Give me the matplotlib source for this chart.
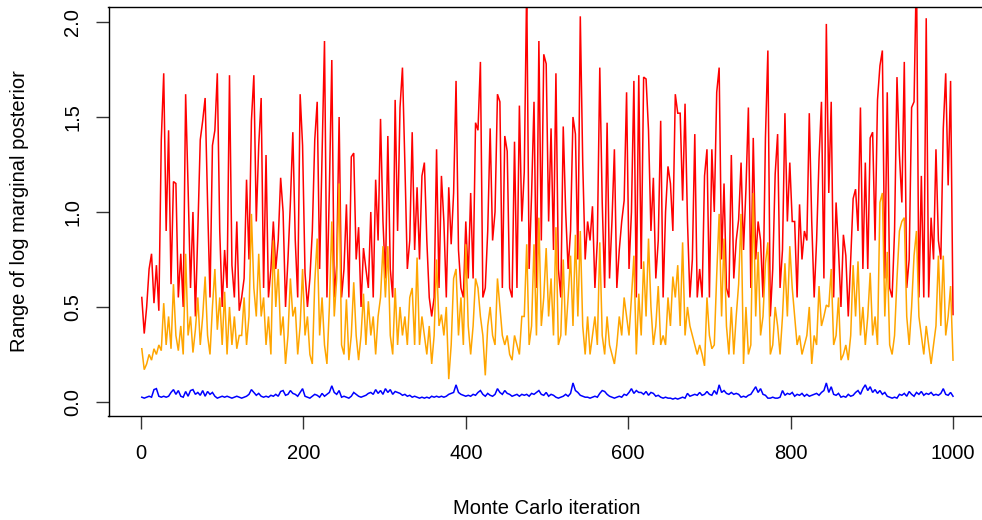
import numpy as np
import matplotlib
matplotlib.use("Agg")
import matplotlib.pyplot as plt

plt.rcParams['font.family'] = ['Liberation Sans', 'DejaVu Sans']

# Values, one sample every 3 Monte Carlo iterations
iteration_step = 3

red_series = [
    # iterations 1-121
    0.55, 0.36, 0.50, 0.70, 0.78, 0.52, 0.72, 0.48, 1.38, 1.73, 0.90, 1.43, 0.62, 1.16, 1.15, 0.55, 0.78, 0.50, 1.62, 1.13,
    0.60, 1.00, 0.45, 0.90, 1.38, 1.48, 1.60, 1.05, 0.55, 1.35, 1.43, 1.73, 0.90, 0.50, 0.80, 0.60, 1.72, 0.72, 0.55, 0.95, 0.48,
    # iterations 124-244
    0.55, 0.65, 1.17, 0.75, 1.48, 1.72, 0.95, 1.35, 1.60, 0.60, 1.30, 0.55, 0.70, 0.95, 0.70, 0.85, 1.18, 1.00, 0.50, 0.75,
    1.05, 1.42, 0.85, 0.55, 1.62, 1.35, 0.68, 0.50, 0.65, 0.90, 1.38, 1.58, 0.70, 1.30, 1.90, 0.55, 1.12, 1.80, 0.55, 0.72, 1.50,
    # iterations 247-367
    0.55, 0.70, 1.04, 0.55, 1.29, 1.31, 0.75, 0.92, 0.50, 0.81, 0.70, 0.60, 1.00, 0.55, 1.17, 0.85, 1.49, 0.95, 0.65, 1.40,
    0.70, 0.55, 1.59, 0.90, 1.55, 1.76, 1.25, 0.70, 0.85, 1.42, 0.80, 1.13, 0.75, 1.19, 1.26, 0.85, 0.55, 0.45, 0.55, 1.33, 0.60,
    # iterations 370-490
    1.19, 0.95, 0.55, 1.13, 0.83, 1.10, 1.69, 0.80, 0.60, 0.55, 0.95, 0.65, 1.10, 0.65, 1.47, 1.43, 1.79, 0.55, 0.60, 0.90,
    1.44, 0.85, 1.00, 1.62, 1.58, 0.60, 1.40, 1.32, 0.60, 0.55, 1.37, 0.60, 1.56, 0.95, 1.21, 2.20, 0.70, 1.09, 1.58, 0.60, 1.90,
    # iterations 493-613
    0.85, 1.83, 1.78, 0.95, 1.44, 0.80, 1.73, 0.70, 0.55, 1.45, 1.00, 0.70, 0.90, 1.50, 1.41, 0.75, 2.03, 1.26, 0.75, 0.95,
    0.85, 1.03, 0.60, 0.85, 1.76, 1.05, 0.60, 1.47, 0.65, 0.95, 1.33, 0.60, 0.80, 0.95, 1.06, 1.63, 0.70, 1.00, 1.69, 0.55, 1.72,
    # iterations 616-736
    0.70, 1.71, 1.70, 1.43, 0.90, 1.18, 0.65, 0.85, 1.48, 0.55, 1.00, 1.24, 1.15, 0.90, 1.62, 1.52, 1.52, 1.06, 1.57, 0.95,
    0.55, 0.75, 1.41, 0.55, 0.70, 0.55, 1.19, 1.33, 0.55, 1.33, 1.00, 1.63, 1.76, 0.75, 1.15, 0.60, 0.55, 1.30, 0.65, 0.85, 0.96,
    # iterations 739-859
    1.26, 0.80, 1.12, 1.55, 0.60, 1.39, 0.75, 0.95, 0.85, 0.55, 1.39, 1.85, 0.45, 0.70, 1.20, 1.41, 0.60, 0.80, 1.52, 0.95,
    1.26, 0.95, 0.95, 0.55, 1.04, 0.75, 0.90, 0.85, 1.52, 0.95, 0.55, 0.85, 1.28, 1.58, 0.65, 1.99, 1.10, 1.58, 0.55, 1.05, 0.80,
    # iterations 862-1000
    0.50, 0.88, 0.77, 0.45, 0.75, 1.07, 1.12, 0.90, 1.55, 0.70, 1.26, 0.70, 1.39, 1.42, 0.85, 1.59, 1.77, 1.85, 0.65, 1.63,
    0.60, 0.55, 0.90, 1.71, 1.30, 1.05, 1.79, 0.60, 0.75, 1.55, 1.58, 2.30, 0.55, 1.19, 0.55, 2.02, 0.55, 0.97, 0.75, 1.33,
    0.85, 0.75, 1.44, 1.73, 1.14, 1.69, 0.46,
]

orange_series = [
    0.28, 0.17, 0.20, 0.25, 0.22, 0.28, 0.25, 0.30, 0.27, 0.52, 0.30, 0.45, 0.28, 0.62, 0.35, 0.27, 0.40, 0.25, 0.78, 0.35,
    0.45, 0.26, 0.38, 0.55, 0.30, 0.45, 0.66, 0.35, 0.25, 0.50, 0.70, 0.38, 0.55, 0.30, 0.58, 0.25, 0.50, 0.30, 0.45, 0.28, 0.35,
    0.35, 0.55, 0.30, 0.45, 0.99, 0.60, 0.45, 0.78, 0.45, 0.55, 0.30, 0.45, 0.25, 0.85, 0.50, 0.70, 0.35, 0.45, 0.20, 0.35,
    0.65, 0.45, 0.50, 0.25, 0.40, 0.70, 0.35, 0.45, 0.25, 0.20, 0.63, 0.86, 0.35, 0.55, 0.30, 0.20, 0.50, 0.95, 0.45, 0.65, 1.15,
    0.30, 0.25, 0.54, 0.22, 0.35, 0.63, 0.35, 0.22, 0.35, 0.57, 0.30, 0.53, 0.35, 0.45, 0.25, 0.45, 0.55, 0.82, 0.55, 0.82,
    0.35, 0.25, 0.60, 0.30, 0.50, 0.35, 0.45, 0.30, 0.55, 0.60, 0.30, 0.76, 0.30, 0.45, 0.35, 0.25, 0.40, 0.20, 0.35, 0.75, 0.40,
    0.46, 0.35, 0.50, 0.12, 0.30, 0.65, 0.70, 0.35, 0.55, 0.30, 0.83, 0.40, 0.25, 0.40, 0.65, 0.60, 0.45, 0.35, 0.14, 0.40,
    0.50, 0.35, 0.30, 0.65, 0.50, 0.35, 0.30, 0.35, 0.25, 0.22, 0.35, 0.30, 0.25, 0.45, 0.45, 0.83, 0.30, 0.40, 0.83, 0.35, 0.97,
    0.40, 0.55, 0.81, 0.45, 0.65, 0.35, 0.92, 0.30, 0.35, 0.75, 0.35, 0.55, 0.77, 0.40, 0.88, 0.45, 0.90, 0.40, 0.25, 0.45,
    0.25, 0.35, 0.45, 0.30, 0.84, 0.35, 0.25, 0.45, 0.30, 0.25, 0.20, 0.30, 0.45, 0.35, 0.55, 0.45, 0.35, 0.55, 0.77, 0.25, 0.57,
    0.35, 0.74, 0.45, 0.86, 0.50, 0.30, 0.40, 0.61, 0.30, 0.35, 0.30, 0.55, 0.40, 0.66, 0.55, 0.72, 0.40, 0.84, 0.35, 0.50,
    0.40, 0.35, 0.30, 0.25, 0.30, 0.25, 0.19, 0.55, 0.35, 0.28, 0.30, 0.67, 0.99, 0.45, 0.86, 0.40, 0.25, 0.50, 0.25, 0.45, 0.62,
    0.99, 0.20, 0.50, 0.25, 0.30, 1.10, 0.45, 0.79, 0.35, 0.45, 0.73, 0.84, 0.25, 0.30, 0.50, 0.40, 0.25, 0.45, 0.73, 0.45,
    0.82, 0.60, 0.45, 0.30, 0.35, 0.25, 0.30, 0.35, 0.50, 0.20, 0.35, 0.30, 0.61, 0.40, 0.45, 0.51, 0.50, 0.70, 0.30, 0.35, 0.55,
    0.22, 0.25, 0.30, 0.22, 0.35, 0.72, 0.45, 0.74, 0.35, 0.50, 0.30, 0.45, 0.68, 0.35, 0.45, 0.30, 1.05, 1.10, 0.45, 0.79,
    0.30, 0.25, 0.35, 0.65, 0.90, 0.95, 0.97, 0.45, 0.30, 0.50, 0.77, 0.90, 0.45, 0.35, 0.25, 0.40, 0.30, 0.20, 0.30, 0.40,
    0.77, 0.40, 0.77, 0.35, 0.45, 0.61, 0.22,
]

blue_series = [
    0.025, 0.02, 0.025, 0.03, 0.025, 0.065, 0.07, 0.03, 0.025, 0.03, 0.025, 0.03, 0.05, 0.065, 0.04, 0.06, 0.03, 0.025, 0.055, 0.03,
    0.06, 0.065, 0.04, 0.05, 0.035, 0.06, 0.03, 0.055, 0.04, 0.05, 0.03, 0.02, 0.025, 0.03, 0.025, 0.03, 0.025, 0.02, 0.025, 0.03, 0.025,
    0.02, 0.025, 0.03, 0.04, 0.065, 0.05, 0.035, 0.045, 0.03, 0.025, 0.03, 0.025, 0.035, 0.03, 0.04, 0.03, 0.055, 0.06, 0.035, 0.04,
    0.06, 0.045, 0.04, 0.03, 0.05, 0.07, 0.03, 0.025, 0.02, 0.03, 0.04, 0.035, 0.025, 0.045, 0.03, 0.04, 0.05, 0.085, 0.05, 0.04, 0.06,
    0.025, 0.03, 0.025, 0.02, 0.03, 0.05, 0.04, 0.03, 0.025, 0.03, 0.035, 0.045, 0.05, 0.04, 0.065, 0.045, 0.06, 0.04, 0.07, 0.05,
    0.065, 0.04, 0.055, 0.05, 0.045, 0.035, 0.04, 0.03, 0.035, 0.025, 0.03, 0.025, 0.02, 0.025, 0.02, 0.025, 0.02, 0.03, 0.025, 0.03, 0.025,
    0.03, 0.025, 0.03, 0.04, 0.045, 0.05, 0.09, 0.05, 0.04, 0.035, 0.03, 0.035, 0.03, 0.04, 0.035, 0.05, 0.06, 0.04, 0.03, 0.045,
    0.035, 0.03, 0.04, 0.07, 0.05, 0.04, 0.06, 0.045, 0.04, 0.03, 0.035, 0.04, 0.03, 0.04, 0.035, 0.04, 0.03, 0.045, 0.04, 0.05, 0.06,
    0.04, 0.035, 0.05, 0.03, 0.04, 0.035, 0.025, 0.02, 0.025, 0.03, 0.04, 0.03, 0.045, 0.10, 0.06, 0.05, 0.035, 0.03, 0.025, 0.025,
    0.02, 0.025, 0.03, 0.025, 0.045, 0.06, 0.055, 0.04, 0.03, 0.025, 0.02, 0.025, 0.03, 0.025, 0.04, 0.035, 0.05, 0.07, 0.045, 0.06, 0.05,
    0.05, 0.04, 0.055, 0.035, 0.05, 0.045, 0.03, 0.035, 0.025, 0.02, 0.025, 0.02, 0.02, 0.015, 0.02, 0.015, 0.02, 0.025, 0.02, 0.045,
    0.03, 0.035, 0.04, 0.035, 0.05, 0.035, 0.04, 0.055, 0.04, 0.035, 0.06, 0.04, 0.09, 0.05, 0.06, 0.045, 0.04, 0.05, 0.04, 0.045, 0.04,
    0.025, 0.03, 0.025, 0.035, 0.04, 0.06, 0.08, 0.05, 0.07, 0.04, 0.035, 0.02, 0.02, 0.025, 0.02, 0.02, 0.025, 0.06, 0.035, 0.045,
    0.04, 0.05, 0.03, 0.04, 0.035, 0.045, 0.03, 0.04, 0.03, 0.035, 0.04, 0.045, 0.035, 0.05, 0.06, 0.10, 0.05, 0.08, 0.04, 0.035, 0.045,
    0.025, 0.03, 0.025, 0.04, 0.03, 0.035, 0.05, 0.06, 0.04, 0.07, 0.09, 0.06, 0.08, 0.05, 0.065, 0.045, 0.06, 0.04, 0.05, 0.03,
    0.025, 0.02, 0.025, 0.02, 0.04, 0.035, 0.045, 0.03, 0.055, 0.04, 0.03, 0.05, 0.04, 0.055, 0.035, 0.045, 0.04, 0.05, 0.035, 0.04,
    0.035, 0.045, 0.07, 0.04, 0.035, 0.05, 0.03,
]

x_ticks = [0, 200, 400, 600, 800, 1000]
y_ticks = [0.0, 0.5, 1.0, 1.5, 2.0]
y_tick_labels = ["0.0", "0.5", "1.0", "1.5", "2.0"]
x_label = "Monte Carlo iteration"
y_label = "Range of log marginal posterior"

W, H = 982, 520
fig = plt.figure(figsize=(W / 100, H / 100), dpi=100)
ax = fig.add_axes([108.5 / W, 104 / H, 877 / W, 409 / H])

for values, color in [(red_series, "#FF0000"), (orange_series, "#FFA500"), (blue_series, "#0000FF")]:
    x = 1 + iteration_step * np.arange(len(values))
    ax.plot(x, values, color=color, lw=1.1, solid_joinstyle="miter")

ax.set_xlim(-40, 1040)
ax.set_ylim(-0.074, 2.079)

ax.set_xticks(x_ticks)
ax.set_xticklabels([str(v) for v in x_ticks])
ax.set_yticks(y_ticks)
ax.set_yticklabels(y_tick_labels, rotation=90, va="center")

ax.tick_params(axis="both", direction="out", length=9.5, width=1.0, color="#333333", labelsize=14.5)
ax.tick_params(axis="x", pad=11)
ax.tick_params(axis="y", pad=9.5)

for s in ax.spines.values():
    s.set_linewidth(1.0)
    s.set_color("black")

ax.text(0.5, -(508 - 416) / 409, x_label, transform=ax.transAxes, ha="center", va="center", fontsize=14.5)
ax.text((20 - 108.5) / 877, 0.5, y_label, transform=ax.transAxes, ha="center", va="center", rotation=90, fontsize=14.5)

fig.savefig("out.png", dpi=100)
